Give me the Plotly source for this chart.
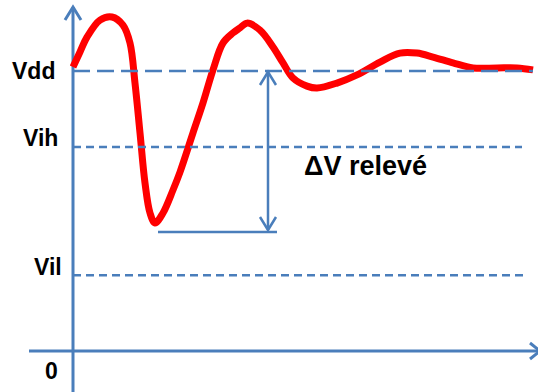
import plotly.graph_objects as go

# --- data (time in arbitrary units, voltage normalised so Vdd = 1) ---
t_curve = [0.0, 0.7, 1.4, 2.7, 3.9, 5.0, 5.7, 6.2, 6.7, 7.2, 7.7, 8.2, 9.0, 10.0, 10.7,
           12.0, 13.0, 14.0, 15.0, 16.0, 16.7, 17.4, 18.7, 20.0, 21.0, 22.0, 23.4, 24.4,
           26.4, 28.4, 30.7, 32.7, 34.4, 36.0, 38.0, 40.0, 42.4, 44.4, 46.0]
v_curve = [1.014, 1.068, 1.121, 1.182, 1.193, 1.164, 1.100, 0.957, 0.779, 0.600, 0.493,
           0.457, 0.493, 0.575, 0.639, 0.779, 0.886, 1.004, 1.100, 1.136, 1.154, 1.171,
           1.146, 1.086, 1.029, 0.975, 0.946, 0.939, 0.957, 0.986, 1.032, 1.064, 1.064,
           1.050, 1.029, 1.011, 1.011, 1.011, 1.004]

level_names = ["Vdd", "Vih", "Vil", "0"]
level_values = [1.0, 0.729, 0.271, 0.0]
measured_level = 0.425      # bottom of the ΔV measurement
delta_t = 19.5              # time where ΔV is measured
delta_label = "ΔV relevé"

BLUE = "#4a7ebb"
RED = "#ff0000"
X_RANGE = [-7.3, 46.5]
Y_RANGE = [-0.1464, 1.2536]
px_x = 538 / (X_RANGE[1] - X_RANGE[0])
px_y = 392 / (Y_RANGE[1] - Y_RANGE[0])

fig = go.Figure()

# axes with arrow heads
ax_w, ax_h = 8 / px_x, 13 / px_y
y_top = Y_RANGE[1] - 7 / px_y
fig.add_trace(go.Scatter(x=[0, 0, None, -ax_w, 0, ax_w], y=[Y_RANGE[0], y_top, None, y_top - ax_h, y_top, y_top - ax_h],
                         mode="lines", line=dict(color=BLUE, width=3), hoverinfo="skip", showlegend=False))
x_left = -4.4
x_tip = X_RANGE[1] + 0.2
fig.add_trace(go.Scatter(x=[x_left, x_tip, None, x_tip - 1.0, x_tip, x_tip - 1.0],
                         y=[0, 0, None, 8 / px_y, 0, -8 / px_y],
                         mode="lines", line=dict(color=BLUE, width=3), hoverinfo="skip", showlegend=False))

# threshold lines
line_ends = [46.0, 44.9, 45.2]
dashes = ["17px,7px", "8px,5px", "8px,5px"]
for v, xe, d in zip(level_values[:3], line_ends, dashes):
    fig.add_shape(type="line", x0=0, x1=xe, y0=v, y1=v, line=dict(color=BLUE, width=2.5, dash=d))

# level labels
label_x = [-3.95, -3.25, -2.55, -2.15]
label_shift = [0, 9, 8, -20]
for name, v, lx, sh in zip(level_names, level_values, label_x, label_shift):
    fig.add_annotation(x=lx, y=v, text="<b>" + name + "</b>", showarrow=False, xanchor="center", yanchor="middle",
                       yshift=sh, font=dict(family="Liberation Sans", size=23, color="black"))

# ΔV double arrow and baseline
aw, ah = 8 / px_x, 13 / px_y
top = level_values[0] - 1 / px_y
bot = measured_level + 2 / px_y
fig.add_trace(go.Scatter(
    x=[delta_t, delta_t, None, delta_t - aw, delta_t, delta_t + aw, None, delta_t - aw, delta_t, delta_t + aw,
       None, 8.5, 20.4],
    y=[top, bot, None, top - ah, top, top - ah, None, bot + ah, bot, bot + ah,
       None, measured_level, measured_level],
    mode="lines", line=dict(color=BLUE, width=2.5), hoverinfo="skip", showlegend=False))

fig.add_annotation(x=29.2, y=0.66, text="<b>" + delta_label + "</b>", showarrow=False,
                   xanchor="center", yanchor="middle",
                   font=dict(family="Liberation Sans", size=27, color="black"))

# signal curve
fig.add_trace(go.Scatter(x=t_curve, y=v_curve, mode="lines", line=dict(color=RED, width=7, shape="spline"),
                         hoverinfo="skip", showlegend=False))

fig.update_layout(width=538, height=392, margin=dict(l=0, r=0, t=0, b=0),
                  paper_bgcolor="white", plot_bgcolor="white",
                  xaxis=dict(range=X_RANGE, visible=False, fixedrange=True),
                  yaxis=dict(range=Y_RANGE, visible=False, fixedrange=True))

fig.write_html("out.html", config={"displayModeBar": False},
               post_script="document.body.style.margin='0';document.body.style.overflow='hidden';")
